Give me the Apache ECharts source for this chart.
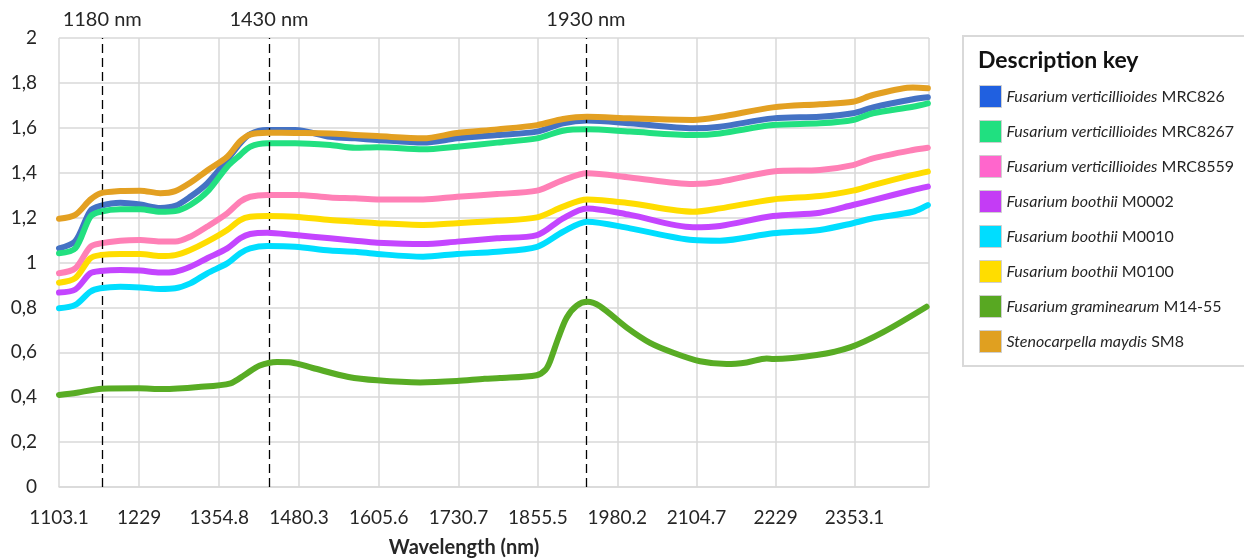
<!DOCTYPE html>
<html>
<head>
<meta charset="utf-8">
<script src="https://cdn.jsdelivr.net/npm/echarts@6/dist/echarts.min.js"></script>
<style>
html,body{margin:0;padding:0;background:#fff;}
#chart{width:1244px;height:560px;}
</style>
</head>
<body>
<div id="chart"></div>
<script>
// ---- data ----
const wavelengths = [1103.1, 1128.7, 1152.3, 1168.0, 1199.4, 1230.8, 1262.2, 1285.7, 1309.3, 1336.0, 1367.4, 1387.8, 1403.5, 1430.2, 1474.2, 1529.1, 1568.4, 1603.0, 1675.2, 1728.6, 1791.4, 1854.2, 1895.1, 1932.8, 2000.3, 2099.2, 2141.6, 2224.8, 2298.6, 2350.5, 2381.9, 2444.7, 2468.2];

const fvMRC826  = [1.063, 1.095, 1.230, 1.252, 1.266, 1.258, 1.243, 1.252, 1.293, 1.353, 1.457, 1.531, 1.572, 1.590, 1.590, 1.560, 1.553, 1.546, 1.534, 1.553, 1.568, 1.583, 1.620, 1.632, 1.620, 1.598, 1.605, 1.642, 1.649, 1.665, 1.691, 1.727, 1.736];
const fvMRC8267 = [1.041, 1.063, 1.204, 1.226, 1.237, 1.237, 1.226, 1.229, 1.256, 1.315, 1.427, 1.479, 1.516, 1.531, 1.531, 1.523, 1.511, 1.513, 1.504, 1.516, 1.534, 1.553, 1.587, 1.593, 1.583, 1.568, 1.575, 1.612, 1.620, 1.635, 1.665, 1.694, 1.709];
const fvMRC8559 = [0.952, 0.974, 1.070, 1.085, 1.097, 1.100, 1.093, 1.093, 1.115, 1.160, 1.219, 1.271, 1.293, 1.301, 1.301, 1.290, 1.286, 1.281, 1.281, 1.293, 1.305, 1.320, 1.367, 1.397, 1.379, 1.350, 1.360, 1.405, 1.412, 1.434, 1.464, 1.501, 1.511];
const fbM0002   = [0.866, 0.880, 0.952, 0.962, 0.967, 0.964, 0.955, 0.959, 0.981, 1.019, 1.063, 1.108, 1.127, 1.133, 1.122, 1.108, 1.097, 1.088, 1.082, 1.093, 1.108, 1.122, 1.197, 1.241, 1.212, 1.157, 1.163, 1.207, 1.222, 1.256, 1.278, 1.323, 1.338];
const fbM0010   = [0.796, 0.811, 0.870, 0.885, 0.892, 0.889, 0.882, 0.885, 0.907, 0.952, 0.996, 1.041, 1.063, 1.073, 1.070, 1.053, 1.048, 1.038, 1.026, 1.038, 1.048, 1.070, 1.137, 1.182, 1.152, 1.100, 1.097, 1.130, 1.145, 1.175, 1.197, 1.226, 1.256];
const fbM0100   = [0.910, 0.930, 1.019, 1.033, 1.038, 1.038, 1.029, 1.033, 1.056, 1.093, 1.145, 1.189, 1.204, 1.207, 1.204, 1.189, 1.182, 1.175, 1.167, 1.175, 1.186, 1.201, 1.249, 1.281, 1.264, 1.226, 1.241, 1.281, 1.296, 1.320, 1.345, 1.390, 1.405];
const smSM8     = [1.195, 1.212, 1.280, 1.308, 1.318, 1.320, 1.309, 1.318, 1.355, 1.410, 1.471, 1.540, 1.570, 1.578, 1.577, 1.575, 1.568, 1.563, 1.553, 1.577, 1.593, 1.612, 1.639, 1.649, 1.642, 1.635, 1.649, 1.691, 1.705, 1.716, 1.746, 1.780, 1.776];

const fgWavelengths = [1103.1, 1131.2, 1170.5, 1227.8, 1266.1, 1322.2, 1372.7, 1395.2, 1417.7, 1445.8, 1467.9, 1501.8, 1558.0, 1603.0, 1670.5, 1728.0, 1771.8, 1796.1, 1853.4, 1867.3, 1874.6, 1887.7, 1900.9, 1916.6, 1933.2, 1953.1, 1995.1, 2031.7, 2068.3, 2110.2, 2152.1, 2183.5, 2214.9, 2225.3, 2293.5, 2345.8, 2398.1, 2466.2];
const fgM1455 = [0.410, 0.420, 0.438, 0.440, 0.436, 0.445, 0.462, 0.500, 0.540, 0.557, 0.555, 0.530, 0.490, 0.475, 0.466, 0.472, 0.482, 0.485, 0.498, 0.522, 0.560, 0.665, 0.755, 0.808, 0.825, 0.805, 0.710, 0.642, 0.598, 0.560, 0.548, 0.555, 0.572, 0.570, 0.588, 0.622, 0.690, 0.803];

const xTickLabels = [1103.1, 1229, 1354.8, 1480.3, 1605.6, 1730.7, 1855.5, 1980.2, 2104.7, 2229, 2353.1];
const xMin = 1103.1;
const xMax = 2470;

const annotationPos = [1171, 1433, 1931];
const annotationText = ['1180 nm', '1430 nm', '1930 nm'];

const speciesNames = ['Fusarium verticillioides', 'Fusarium verticillioides', 'Fusarium verticillioides', 'Fusarium boothii', 'Fusarium boothii', 'Fusarium boothii', 'Fusarium graminearum', 'Stenocarpella maydis'];
const strainNames = ['MRC826', 'MRC8267', 'MRC8559', 'M0002', 'M0010', 'M0100', 'M14-55', 'SM8'];
const lineColors = ['#4472C4', '#22E080', '#FF80B6', '#C445FF', '#00DEFF', '#FFDD00', '#58AC24', '#E3A022'];
const keyColors  = ['#2060E0', '#20E080', '#FF66CC', '#C43CF5', '#00DDFF', '#FFDD00', '#58A822', '#E0A020'];

// ---- build ----
const FONT = 'Lato, "Open Sans", sans-serif';
const TXT = '#262626';
const seriesNames = speciesNames.map((s, i) => s + ' ' + strainNames[i]);
const valueSets = [fvMRC826, fvMRC8267, fvMRC8559, fbM0002, fbM0010, fbM0100, null, smSM8];

function pairs(xs, ys) { return xs.map((x, i) => [x, ys[i]]); }

const series = seriesNames.map((name, i) => ({
  name: name,
  type: 'line',
  data: i === 6 ? pairs(fgWavelengths, fgM1455) : pairs(wavelengths, valueSets[i]),
  showSymbol: false,
  symbol: 'none',
  smooth: 0.3,
  color: lineColors[i],
  lineStyle: { width: 6, color: lineColors[i], cap: 'round', join: 'round' },
  itemStyle: { color: lineColors[i] },
  emphasis: { disabled: true },
  z: 2 + i
}));

series.push({
  name: 'annotations',
  type: 'line',
  data: [],
  silent: true,
  z: 20,
  markLine: {
    silent: true,
    symbol: 'none',
    animation: false,
    lineStyle: { color: '#000', width: 1.3, type: [9, 5] },
    label: {
      show: true,
      position: 'end',
      distance: 8,
      color: TXT,
      fontFamily: FONT,
      fontSize: 20,
      formatter: p => annotationText[p.dataIndex]
    },
    data: annotationPos.map(v => ({ xAxis: v }))
  }
});

const chart = echarts.init(document.getElementById('chart'), null, { renderer: 'canvas' });
chart.setOption({
  animation: false,
  backgroundColor: '#fff',
  grid: { left: 59, right: 315, top: 38, bottom: 73, containLabel: false },
  xAxis: {
    type: 'value',
    min: xMin,
    max: xMax,
    axisLine: { show: true, lineStyle: { color: '#d9d9d9', width: 1.5 } },
    axisTick: { show: false, customValues: xTickLabels.concat([xMax]) },
    axisLabel: {
      customValues: xTickLabels,
      formatter: v => String(v),
      color: TXT, fontFamily: FONT, fontSize: 19, margin: 21
    },
    splitLine: { show: true, lineStyle: { color: '#d9d9d9', width: 1.5 } }
  },
  yAxis: {
    type: 'value',
    min: 0, max: 2, interval: 0.2,
    axisLine: { show: false },
    axisTick: { show: false },
    axisLabel: {
      formatter: v => String(+v.toFixed(1)).replace('.', ','),
      color: TXT, fontFamily: FONT, fontSize: 19, margin: 22
    },
    splitLine: { show: true, lineStyle: { color: '#d9d9d9', width: 1.5 } }
  },
  legend: {
    orient: 'vertical',
    left: 963,
    top: 36,
    padding: [49, 12, 13, 16],
    borderColor: '#d9d9d9',
    borderWidth: 2,
    itemWidth: 22,
    itemHeight: 22,
    itemGap: 12,
    icon: 'rect',
    selectedMode: false,
    data: seriesNames.map((n, i) => ({
      name: n,
      icon: 'rect',
      itemStyle: { color: keyColors[i], borderColor: '#cfcfcf', borderWidth: 1 }
    })),
    formatter: name => {
      const i = seriesNames.indexOf(name);
      return '{i|' + speciesNames[i] + '} {r|' + strainNames[i] + '}';
    },
    textStyle: {
      color: TXT, fontFamily: FONT, fontSize: 16, lineHeight: 20,
      rich: {
        i: { fontStyle: 'italic', fontFamily: FONT, fontSize: 16, lineHeight: 20, color: TXT },
        r: { fontFamily: FONT, fontSize: 16, lineHeight: 20, color: TXT }
      }
    }
  },
  graphic: [
    {
      type: 'text', left: 978, top: 49,
      style: { text: 'Description key', fontFamily: FONT, fontWeight: 'bold', fontSize: 23, fill: '#111' }
    },
    {
      type: 'text', x: 464, y: 548,
      style: { text: 'Wavelength (nm)', fontFamily: FONT, fontWeight: 'bold', fontSize: 20, fill: TXT, textAlign: 'center', textVerticalAlign: 'middle' }
    }
  ],
  series: series
});
</script>
</body>
</html>
